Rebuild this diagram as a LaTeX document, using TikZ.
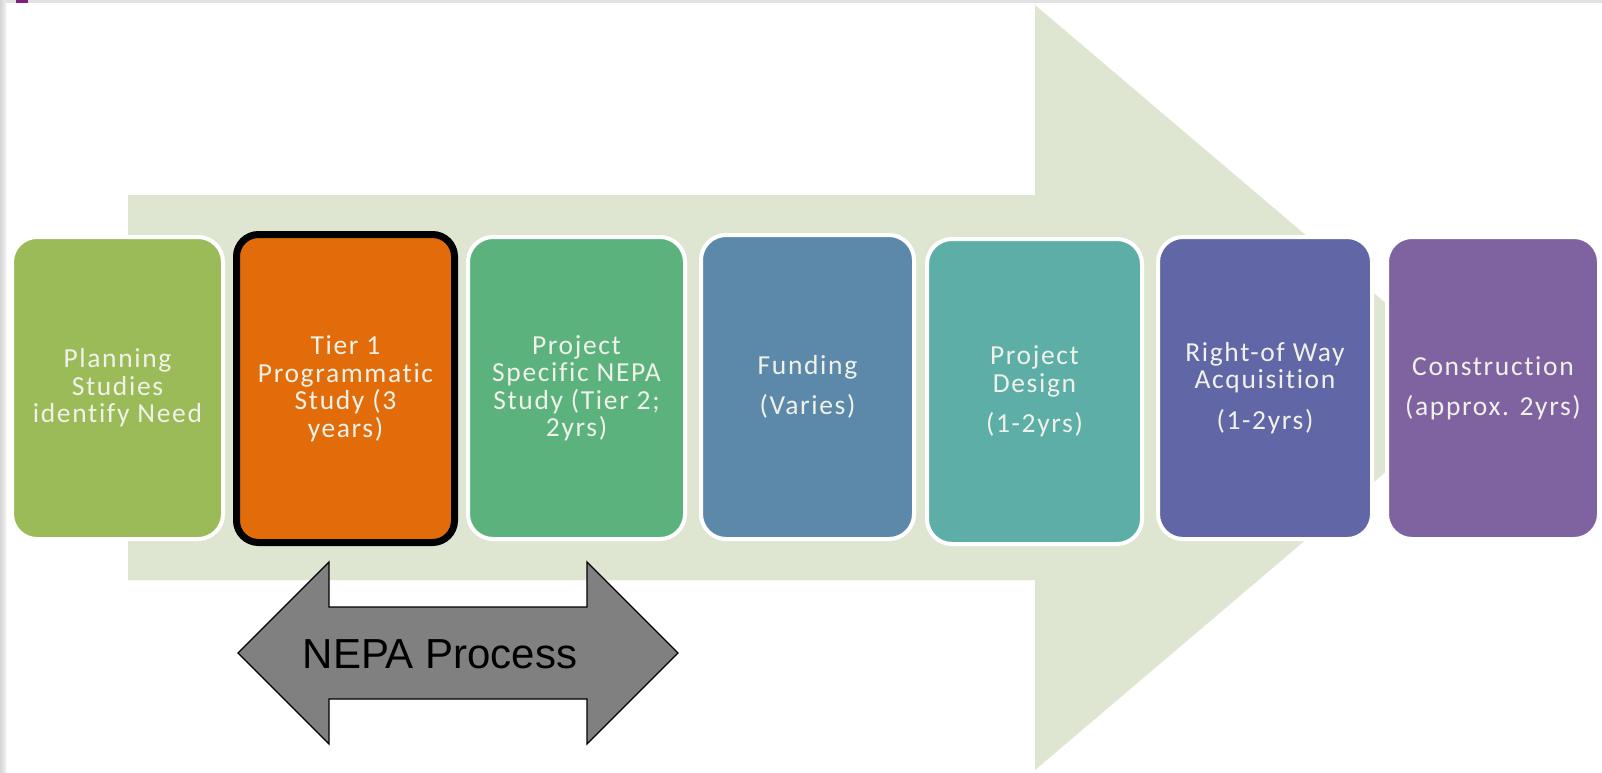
\documentclass[tikz,border=0pt]{standalone}
\usepackage{fontspec}
\setmainfont{Carlito}
\newfontfamily\stagefont[LetterSpace=6,Ligatures=NoCommon]{Carlito}
\newfontfamily\arialfont{Liberation Sans}
\definecolor{bigarrow}{HTML}{DEE6D2}
\definecolor{cA}{HTML}{9BBB59}
\definecolor{cB}{HTML}{E36C0A}
\definecolor{cC}{HTML}{5CB27D}
\definecolor{cD}{HTML}{5C89AA}
\definecolor{cE}{HTML}{5DAEA7}
\definecolor{cF}{HTML}{6066A6}
\definecolor{cG}{HTML}{7F63A1}
\definecolor{txt}{HTML}{F0F2EA}
\definecolor{framegray}{HTML}{E2E2E2}
\definecolor{markpurple}{HTML}{7E1F7E}
\definecolor{nepagray}{HTML}{808080}
\tikzset{
  stage/.style={rectangle, rounded corners=25pt, draw=white, line width=4pt,
    text=txt, align=center, inner sep=0pt, outer sep=0pt,
    font=\stagefont\fontsize{27.5}{27.5}\selectfont},
}
\begin{document}
\begin{tikzpicture}[x=1pt,y=-1pt]
\useasboundingbox (0,0) rectangle (1602,772);
\fill[white] (0,0) rectangle (1602,772);
% frame
\fill[framegray] (0,0) rectangle (1602,3);
\shade[left color=black!16, right color=black!6] (0,0) rectangle (6,772);
\fill[markpurple] (16,0) rectangle (28,3);
% big arrow
\fill[bigarrow] (128,195) -- (1035,195) -- (1035,5) -- (1485,387.5) -- (1035,770) -- (1035,580) -- (128,580) -- cycle;
% stages
\node[stage, fill=cA, minimum width=211pt, minimum height=302pt] (s1) at (117.5,388) {Planning\\Studies\\identify Need};
\node[stage, fill=cB, draw=black, line width=7pt, rounded corners=22pt, minimum width=218pt, minimum height=308pt] (s2) at (345.5,388.5) {Tier 1\\Programmatic\\Study (3\\years)};
\node[stage, fill=cC, minimum width=217pt, minimum height=302pt] (s3) at (576.5,388) {Project\\Specific NEPA\\Study (Tier 2;\\2yrs)};
\node[stage, fill=cD, minimum width=213pt, minimum height=304pt] (s4) at (807.5,387) {Funding\\[13pt](Varies)};
\node[stage, fill=cE, minimum width=215pt, minimum height=305pt] (s5) at (1034.5,391.5) {Project\\Design\\[13pt](1-2yrs)};
\node[stage, fill=cF, minimum width=214pt, minimum height=302pt] (s6) at (1265,388) {Right-of Way\\Acquisition\\[13pt](1-2yrs)};
\node[stage, fill=cG, minimum width=212pt, minimum height=302pt] (s7) at (1493,388) {Construction\\[13pt](approx. 2yrs)};
% NEPA double arrow
\draw[fill=nepagray, draw=black, line width=1.3pt, line join=miter]
  (238,653) -- (329,562) -- (329,607) -- (587,607) -- (587,562) -- (678,653)
  -- (587,744) -- (587,699) -- (329,699) -- (329,744) -- cycle;
\node[anchor=base, inner sep=0pt, font=\arialfont\fontsize{42}{46}\selectfont] (nepa) at (440,668) {NEPA Process};
\end{tikzpicture}
\end{document}
